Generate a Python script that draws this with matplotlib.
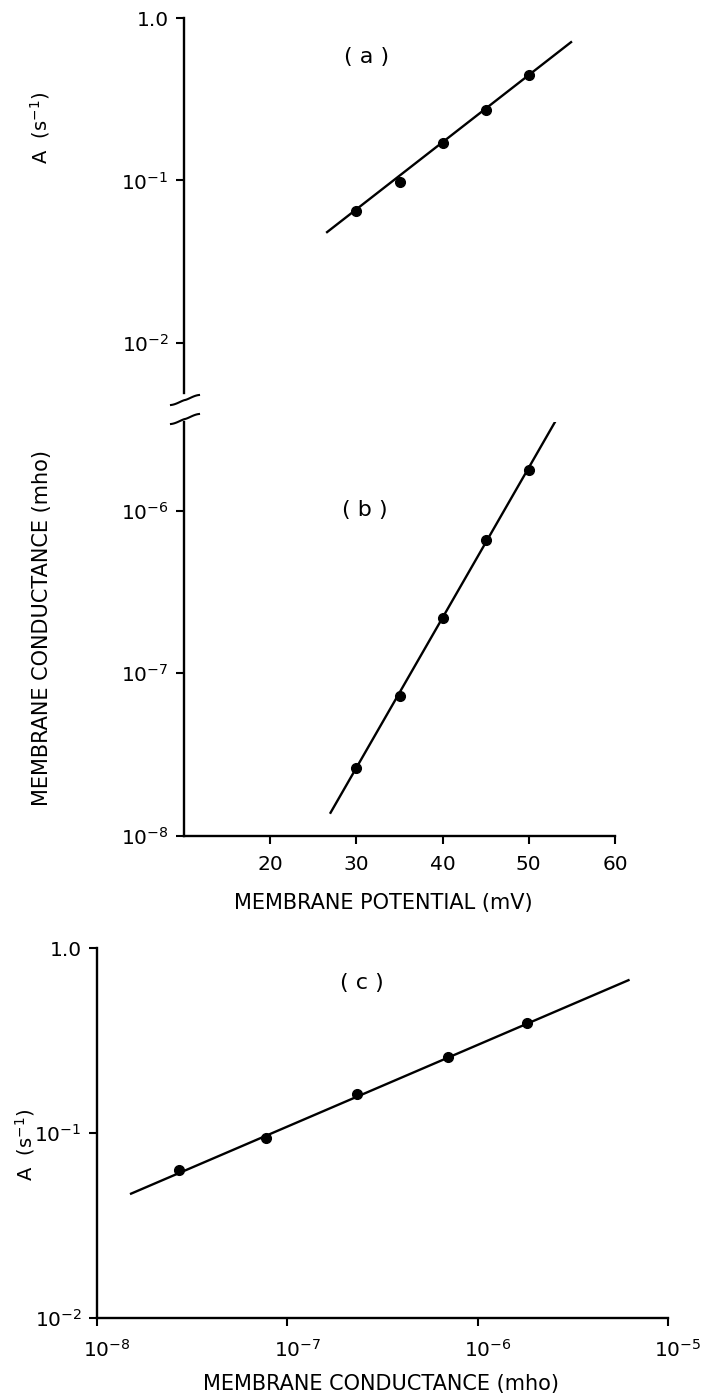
import numpy as np
import matplotlib
matplotlib.use("Agg")
import matplotlib.pyplot as plt
import matplotlib.transforms as mtransforms
from matplotlib.ticker import FixedLocator, NullLocator

# data
potential = [30, 35, 40, 45, 50]                              # mV
rate_a = [0.065, 0.097, 0.171, 0.273, 0.443]                  # A (s^-1), panel (a)
conductance = [2.6e-8, 7.3e-8, 2.2e-7, 6.6e-7, 1.78e-6]       # mho, panel (b)
cond_c = [2.7e-8, 7.7e-8, 2.33e-7, 6.95e-7, 1.81e-6]          # mho, panel (c)
rate_c = [0.063, 0.094, 0.163, 0.258, 0.393]                  # A (s^-1), panel (c)
x_ticks_b = [20, 30, 40, 50, 60]
# fitted lines (end points)
fit_a_x = [26.6, 54.9]
fit_a_y = [0.048, 0.71]
fit_b_x = [27.0, 53.3]
fit_b_y = [1.39e-8, 3.7e-6]
fit_c_x = [1.51e-8, 6.2e-6]
fit_c_y = [0.047, 0.67]

W, H = 709, 1397
plt.rcParams["font.family"] = "DejaVu Sans"
plt.rcParams["mathtext.fontset"] = "dejavusans"
fig = plt.figure(figsize=(W / 100, H / 100), dpi=100)

fs_tick = 14.5
fs_lab = 14
fs_panel = 16


def px_axes(x0, x1, y_top, y_bot):
    return fig.add_axes([x0 / W, 1 - y_bot / H, (x1 - x0) / W, (y_bot - y_top) / H])


def fig_text(x, y, s, **kw):
    fig.text(x / W, 1 - y / H, s, ha="center", va="center", **kw)


def style(ax):
    for s in ["top", "right"]:
        ax.spines[s].set_visible(False)
    for s in ["left", "bottom"]:
        ax.spines[s].set_linewidth(1.7)
    ax.tick_params(direction="out", length=6, width=1.5, labelsize=fs_tick, pad=5)


# ---- panel (a)
ax_a = px_axes(184, 615, 18, 393)
style(ax_a)
ax_a.set_yscale("log")
ax_a.set_xlim(10, 60)
ax_a.set_ylim(0.0049, 1.0)
ax_a.spines["bottom"].set_visible(False)
ax_a.set_xticks([])
ax_a.yaxis.set_major_locator(FixedLocator([1.0, 0.1, 0.01]))
ax_a.yaxis.set_minor_locator(NullLocator())
ax_a.set_yticklabels(["1.0", "10$^{-1}$", "10$^{-2}$"], fontsize=fs_tick)
ax_a.plot(fit_a_x, fit_a_y, color="black", lw=1.7)
ax_a.plot(potential, rate_a, "o", color="black", ms=7)
fig_text(367, 57, "( a )", fontsize=fs_panel)
fig_text(40, 128, "A  (s$^{-1}$)", fontsize=fs_lab, rotation=90)

# ---- panel (b)
ax_b = px_axes(184, 615, 422, 836)
style(ax_b)
ax_b.set_yscale("log")
ax_b.set_xlim(10, 60)
ax_b.set_ylim(1e-8, 3.5e-6)
ax_b.set_xticks(x_ticks_b)
ax_b.set_xticklabels([str(v) for v in x_ticks_b], fontsize=fs_tick)
ax_b.yaxis.set_major_locator(FixedLocator([1e-6, 1e-7, 1e-8]))
ax_b.yaxis.set_minor_locator(NullLocator())
ax_b.set_yticklabels(["10$^{-6}$", "10$^{-7}$", "10$^{-8}$"], fontsize=fs_tick)
ax_b.tick_params(axis="x", pad=8)
ax_b.plot(fit_b_x, fit_b_y, color="black", lw=1.7)
ax_b.plot(potential, conductance, "o", color="black", ms=7)
fig_text(365, 510, "( b )", fontsize=fs_panel)
fig_text(42, 628, "MEMBRANE CONDUCTANCE (mho)", fontsize=fs_lab + 1, rotation=90)
fig_text(383, 903, "MEMBRANE POTENTIAL (mV)", fontsize=fs_lab + 1)

# break marks between (a) and (b)
t = np.linspace(-1, 1, 30)
for yc in [400, 419]:
    xs = 185 + 14 * t
    ys = yc - 5 * np.sin(t * np.pi / 2) * np.abs(t) ** 0.3
    fig.add_artist(plt.Line2D(xs / W, 1 - ys / H, color="black", lw=1.5,
                              transform=fig.transFigure))

# ---- panel (c)
ax_c = px_axes(97, 668, 948, 1318)
style(ax_c)
ax_c.set_xscale("log")
ax_c.set_yscale("log")
ax_c.set_xlim(1e-8, 1e-5)
ax_c.set_ylim(0.01, 1.0)
ax_c.xaxis.set_major_locator(FixedLocator([1e-8, 1e-7, 1e-6, 1e-5]))
ax_c.xaxis.set_minor_locator(NullLocator())
ax_c.set_xticklabels(["10$^{-8}$", "10$^{-7}$", "10$^{-6}$", "10$^{-5}$"], fontsize=fs_tick)
ax_c.yaxis.set_major_locator(FixedLocator([1.0, 0.1, 0.01]))
ax_c.yaxis.set_minor_locator(NullLocator())
ax_c.set_yticklabels(["1.0", "10$^{-1}$", "10$^{-2}$"], fontsize=fs_tick)
ax_c.tick_params(axis="x", pad=9)
shift = mtransforms.ScaledTranslation(10 / 100, 0, fig.dpi_scale_trans)
for lab in ax_c.get_xticklabels():
    lab.set_transform(lab.get_transform() + shift)
ax_c.plot(fit_c_x, fit_c_y, color="black", lw=1.7)
ax_c.plot(cond_c, rate_c, "o", color="black", ms=7)
fig_text(362, 983, "( c )", fontsize=fs_panel)
fig_text(25, 1145, "A  (s$^{-1}$)", fontsize=fs_lab, rotation=90)
fig_text(381, 1384, "MEMBRANE CONDUCTANCE (mho)", fontsize=fs_lab + 1)

fig.savefig("out.png", dpi=100)
